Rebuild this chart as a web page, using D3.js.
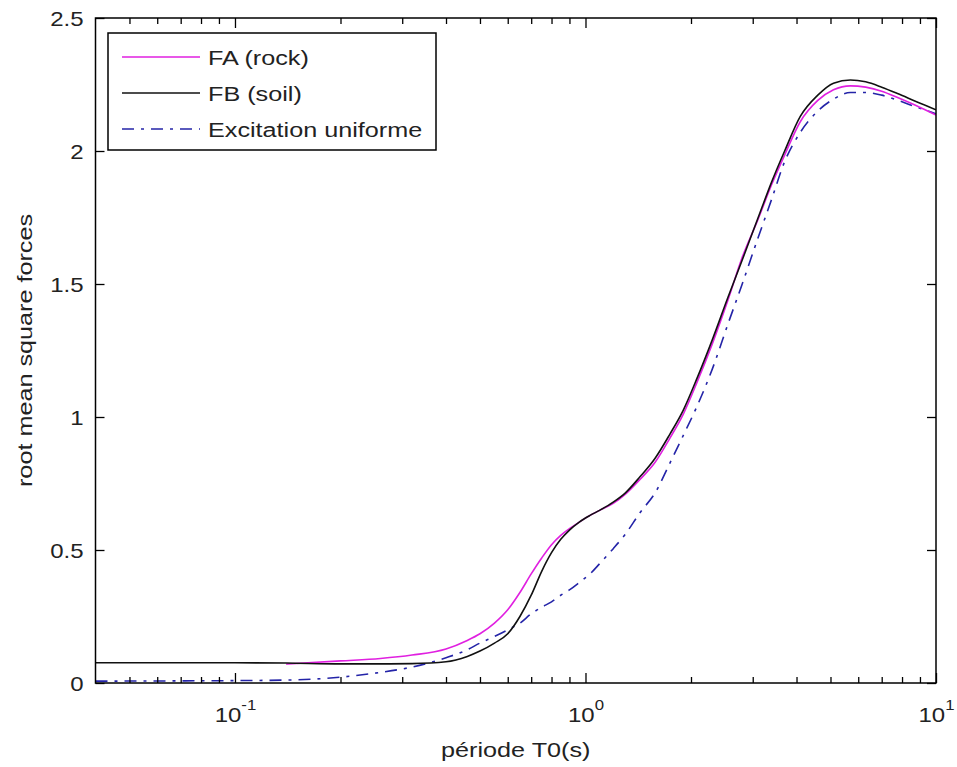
<!DOCTYPE html>
<html>
<head>
<meta charset="utf-8">
<script src="https://cdn.jsdelivr.net/npm/d3@7"></script>
<style>
  html, body { margin: 0; padding: 0; background: #fff; }
  svg { display: block; }
  text { font-family: Arial, "Liberation Sans", Helvetica, sans-serif; fill: #222; }
</style>
</head>
<body>
<svg id="chart" width="957" height="767"></svg>
<script>
// ---- data ----
const periods = [0.04, 0.07, 0.1, 0.14, 0.2, 0.26, 0.32, 0.4, 0.46, 0.5, 0.55, 0.6, 0.65, 0.7, 0.75, 0.8, 0.85, 0.9, 0.96, 1.03, 1.1, 1.2, 1.3, 1.43, 1.58, 1.74, 1.9, 2.08, 2.3, 2.55, 2.8, 3.1, 3.4, 3.7, 4.1, 4.6, 5.1, 5.7, 6.3, 7.0, 7.8, 8.8, 10];
const faRock = [null, null, null, 0.071, 0.083, 0.092, 0.105, 0.128, 0.16, 0.185, 0.225, 0.275, 0.34, 0.41, 0.47, 0.52, 0.555, 0.58, 0.605, 0.63, 0.65, 0.675, 0.71, 0.765, 0.83, 0.92, 1.01, 1.13, 1.275, 1.44, 1.60, 1.74, 1.875, 1.985, 2.11, 2.19, 2.23, 2.245, 2.24, 2.225, 2.20, 2.17, 2.135];
const fbSoil = [0.076, 0.076, 0.076, 0.075, 0.072, 0.072, 0.073, 0.08, 0.10, 0.12, 0.15, 0.185, 0.25, 0.33, 0.42, 0.49, 0.54, 0.575, 0.605, 0.63, 0.65, 0.68, 0.715, 0.775, 0.845, 0.935, 1.025, 1.145, 1.29, 1.45, 1.59, 1.745, 1.885, 2.0, 2.13, 2.21, 2.255, 2.267, 2.26, 2.24, 2.215, 2.185, 2.155];
const uniform = [0.007, 0.008, 0.009, 0.011, 0.022, 0.04, 0.06, 0.095, 0.125, 0.15, 0.175, 0.2, 0.225, 0.26, 0.285, 0.305, 0.33, 0.35, 0.378, 0.41, 0.45, 0.505, 0.56, 0.64, 0.715, 0.826, 0.93, 1.04, 1.18, 1.35, 1.50, 1.67, 1.82, 1.96, 2.07, 2.15, 2.195, 2.22, 2.22, 2.21, 2.19, 2.165, 2.14];

const seriesNames = ["FA (rock)", "FB (soil)", "Excitation uniforme"];
const seriesColors = ["#e020e0", "#111111", "#2424a8"];
const seriesDash = [null, null, "12,7,3,7"];

const xMajorTicks = [0.1, 1, 10];
const xTickExponents = ["-1", "0", "1"];
const xMinorTicks = [0.05, 0.06, 0.07, 0.08, 0.09, 0.2, 0.3, 0.4, 0.5, 0.6, 0.7, 0.8, 0.9, 2, 3, 4, 5, 6, 7, 8, 9];
const yTicks = [0, 0.5, 1, 1.5, 2, 2.5];
const yTickLabels = ["0", "0.5", "1", "1.5", "2", "2.5"];
const xTitle = "période T0(s)";
const yTitle = "root mean square forces";

// ---- layout ----
const W = 957, H = 767;
const mLeft = 95.5, mRight = 936, mTop = 18, mBottom = 683;
const SX = 1.2;          // horizontal text stretch seen in the reference
const FS = 21, FT = 20;  // text / tick-label font sizes
const svg = d3.select("#chart");
svg.append("rect").attr("width", W).attr("height", H).attr("fill", "#fff");

const x = d3.scaleLog().domain([0.04, 10]).range([mLeft, mRight]);
const y = d3.scaleLinear().domain([0, 2.5]).range([mBottom, mTop]);

// ---- series ----
const allSeries = [faRock, fbSoil, uniform];
const line = d3.line()
  .defined(d => d[1] !== null)
  .x(d => x(d[0])).y(d => y(d[1]))
  .curve(d3.curveMonotoneX);

svg.append("clipPath").attr("id", "clip")
  .append("rect").attr("x", mLeft).attr("y", mTop).attr("width", mRight - mLeft).attr("height", mBottom - mTop);

const g = svg.append("g").attr("clip-path", "url(#clip)");
[2, 0, 1].forEach(i => {
  const data = periods.map((p, k) => [p, allSeries[i][k]]);
  g.append("path")
    .attr("d", line(data))
    .attr("fill", "none")
    .attr("stroke", seriesColors[i])
    .attr("stroke-width", 1.6)
    .attr("stroke-dasharray", seriesDash[i]);
});

// ---- axes ----
const axisStyle = sel => {
  sel.select(".domain").remove();
  sel.selectAll(".tick line").attr("stroke", "#000").attr("stroke-width", 1.3);
};

const xb = svg.append("g").attr("transform", `translate(0,${mBottom})`)
  .call(d3.axisBottom(x).tickValues(xMajorTicks).tickSize(-10).tickFormat(() => "10"));
axisStyle(xb);
xb.selectAll(".tick text")
  .attr("x", 0).attr("y", 39).attr("dy", null)
  .attr("transform", `scale(${SX},1)`)
  .attr("font-size", FT).attr("fill", "#222")
  .attr("font-family", "Arial, 'Liberation Sans', sans-serif")
  .each(function(d, i) {
    d3.select(this).append("tspan")
      .attr("dy", -12).attr("font-size", 14)
      .text(xTickExponents[i]);
  });
const xbm = svg.append("g").attr("transform", `translate(0,${mBottom})`)
  .call(d3.axisBottom(x).tickValues(xMinorTicks).tickSize(-6).tickFormat(""));
axisStyle(xbm);
const xt = svg.append("g").attr("transform", `translate(0,${mTop})`)
  .call(d3.axisTop(x).tickValues(xMajorTicks).tickSize(-10).tickFormat(""));
axisStyle(xt);
const xtm = svg.append("g").attr("transform", `translate(0,${mTop})`)
  .call(d3.axisTop(x).tickValues(xMinorTicks).tickSize(-6).tickFormat(""));
axisStyle(xtm);

const yl = svg.append("g").attr("transform", `translate(${mLeft},0)`)
  .call(d3.axisLeft(y).tickValues(yTicks).tickSize(-9).tickFormat((d, i) => yTickLabels[i]));
axisStyle(yl);
yl.selectAll(".tick text")
  .attr("x", -12 / SX).attr("dy", "0.36em")
  .attr("transform", `scale(${SX},1)`)
  .attr("font-size", FT).attr("fill", "#222")
  .attr("font-family", "Arial, 'Liberation Sans', sans-serif");
const yr = svg.append("g").attr("transform", `translate(${mRight},0)`)
  .call(d3.axisRight(y).tickValues(yTicks).tickSize(-9).tickFormat(""));
axisStyle(yr);

svg.append("rect")
  .attr("x", mLeft).attr("y", mTop).attr("width", mRight - mLeft).attr("height", mBottom - mTop)
  .attr("fill", "none").attr("stroke", "#000").attr("stroke-width", 1.5);

svg.append("text")
  .attr("transform", `translate(${(mLeft + mRight) / 2},757) scale(${SX},1)`)
  .attr("text-anchor", "middle").attr("font-size", FS)
  .text(xTitle);
svg.append("text")
  .attr("transform", `translate(32,${(mTop + mBottom) / 2}) rotate(-90) scale(${SX},1)`)
  .attr("text-anchor", "middle").attr("font-size", FS)
  .text(yTitle);

// ---- legend ----
const lg = svg.append("g");
lg.append("rect")
  .attr("x", 108).attr("y", 33).attr("width", 328).attr("height", 117)
  .attr("fill", "#fff").attr("stroke", "#000").attr("stroke-width", 1.5);
const rowY = [57, 93, 129];
seriesNames.forEach((name, i) => {
  lg.append("line")
    .attr("x1", 122).attr("x2", 200).attr("y1", rowY[i]).attr("y2", rowY[i])
    .attr("stroke", seriesColors[i]).attr("stroke-width", 1.6)
    .attr("stroke-dasharray", seriesDash[i]);
  lg.append("text")
    .attr("transform", `translate(208,${rowY[i]}) scale(${SX},1)`)
    .attr("dy", "0.36em")
    .attr("font-size", FS).text(name);
});
</script>
</body>
</html>
